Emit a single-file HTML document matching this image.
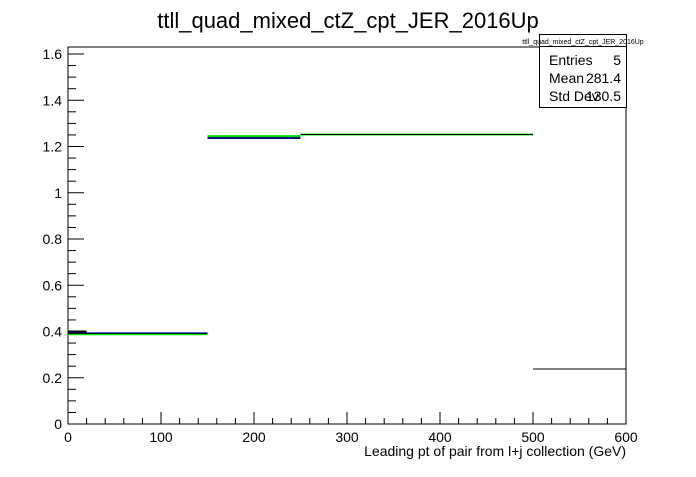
<!DOCTYPE html>
<html><head><meta charset="utf-8"><style>
body{margin:0;background:#fff;font-family:"Liberation Sans",sans-serif}
</style></head><body>
<svg width="696" height="472" xmlns="http://www.w3.org/2000/svg" font-family="Liberation Sans, sans-serif">
<rect width="696" height="472" fill="#fff"/>
<text x="348" y="28" text-anchor="middle" font-size="22">ttll_quad_mixed_ctZ_cpt_JER_2016Up</text>
<rect x="68" y="47" width="558" height="377" fill="none" stroke="#000" stroke-width="1"/>
<g id="axes"></g>
<g id="series"></g>
<g>
<rect x="539.5" y="34.5" width="87" height="73" fill="#fff" stroke="#000"/>
<line x1="539.5" y1="46.5" x2="626.5" y2="46.5" stroke="#000"/>
<text x="583" y="44" text-anchor="middle" font-size="7">ttll_quad_mixed_ctZ_cpt_JER_2016Up</text>
<text x="549" y="65" font-size="14">Entries</text>
<text x="621" y="65" font-size="14" text-anchor="end">5</text>
<text x="549" y="83" font-size="14">Mean</text>
<text x="621" y="83" font-size="14" text-anchor="end">281.4</text>
<text x="549" y="101" font-size="14">Std Dev</text>
<text x="621" y="101" font-size="14" text-anchor="end">130.5</text>
</g>
<text x="626" y="456" text-anchor="end" font-size="14">Leading pt of pair from l+j collection (GeV)</text>
</svg>
<script>
const xTicks=[0,100,200,300,400,500,600];
const yTicks=[0,0.2,0.4,0.6,0.8,1,1.2,1.4,1.6];
const yTickLabels=["0","0.2","0.4","0.6","0.8","1","1.2","1.4","1.6"];
const binEdges=[0,150,250,500,600];
const blackValues=[0.392,1.237,1.252,0.238];
const blueValues=[0.392,1.237,1.252,0];
const greenValues=[0.388,1.245,1.252,0];
const extraEdges=[0,20];
const extraValues=[0.40];
const X=v=>68+v*558/600;
const Y=v=>424-v*231.25;
const NS="http://www.w3.org/2000/svg";
const ax=document.getElementById('axes'),se=document.getElementById('series');
function ln(p,x1,y1,x2,y2,c,w,name){const l=document.createElementNS(NS,'line');
l.setAttribute('x1',x1);l.setAttribute('y1',y1);l.setAttribute('x2',x2);l.setAttribute('y2',y2);
l.setAttribute('stroke',c);l.setAttribute('stroke-width',w);


p.appendChild(l);return l;}
function tx(p,x,y,s,anchor,name){const t=document.createElementNS(NS,'text');
t.setAttribute('x',x);t.setAttribute('y',y);t.setAttribute('font-size','14');t.setAttribute('text-anchor',anchor);t.textContent=s;


p.appendChild(t);}
for(let v=0;v<=600;v+=20){const major=v%100===0;ln(ax,X(v),424,X(v),424-(major?12:6),'#000',1,'x-tick');}
xTicks.forEach(v=>tx(ax,X(v),442,String(v),'middle','x-tick-label'));
for(let i=0;i<=32;i++){const v=i*0.05;if(Y(v)<47)break;const major=i%4===0;ln(ax,68,Y(v),68+(major?16:8),Y(v),'#000',1,'y-tick');}
yTicks.forEach((v,i)=>tx(ax,62,Y(v)+5,yTickLabels[i],'end','y-tick-label'));
function series(vals,c,w,name){vals.forEach((v,i)=>{if(v>0)ln(se,X(binEdges[i]),Y(v),X(binEdges[i+1]),Y(v),c,w,name);});}
series(blueValues,'#0000ff',2,'blue-series-bin');
series(greenValues,'#00dd00',2,'green-series-bin');
series(blackValues,'#000',1,'black-series-bin');
extraValues.forEach((v,i)=>ln(se,X(extraEdges[i]),Y(v),X(extraEdges[i+1]),Y(v),'#000',2,'black-extra-bin'));
</script>
</body></html>
